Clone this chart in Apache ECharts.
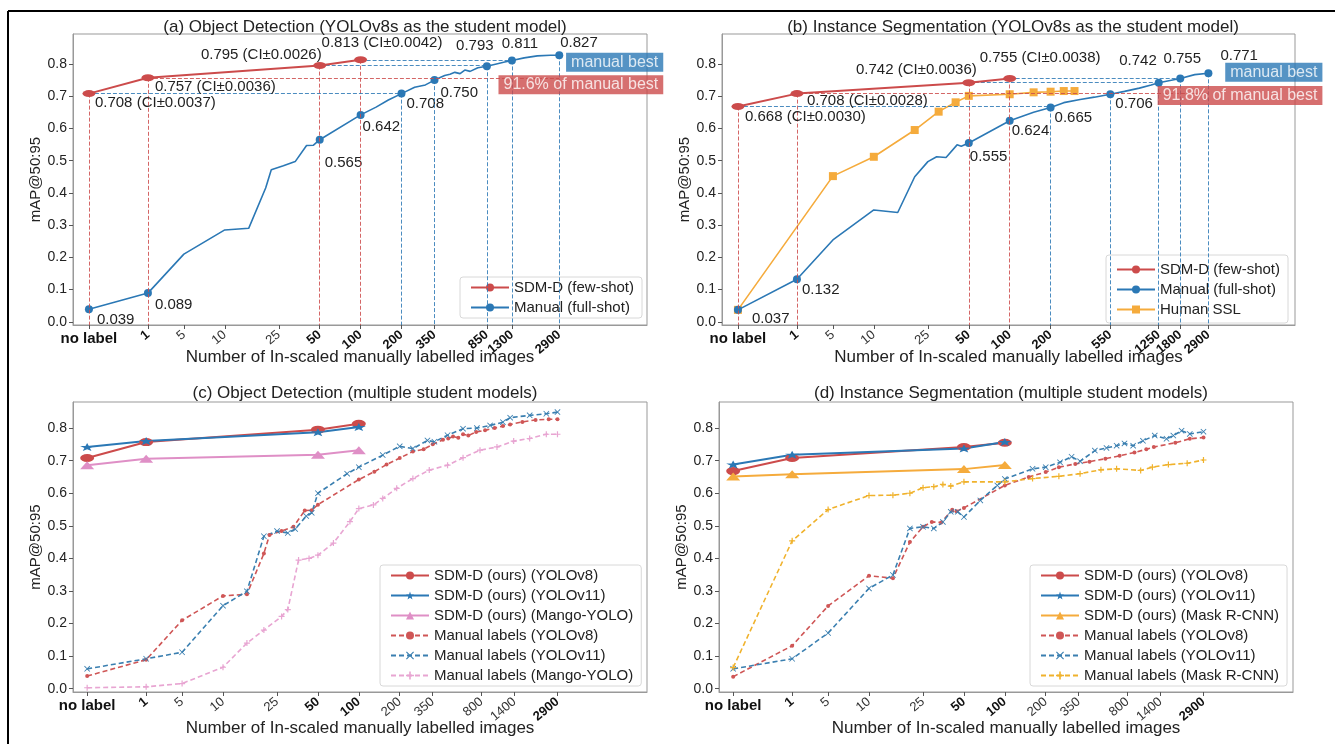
<!DOCTYPE html>
<html><head><meta charset="utf-8">
<script src="https://cdn.jsdelivr.net/npm/echarts@6/dist/echarts.min.js"></script>
<style>html,body{margin:0;padding:0;background:#fff}#c{width:1335px;height:744px}</style>
</head><body><div id="c"></div>
<script>
// ================= DATA =================
const ticksA = [0,1,5,10,25,50,100,200,350,850,1300,2900];
const boldA  = [0,1,50,100,200,350,850,1300,2900];
const ticksB = [0,1,5,10,25,50,100,200,550,1250,1800,2900];
const boldB  = [0,1,50,100,200,550,1250,1800,2900];
const ticksCD = [0,1,5,10,25,50,100,200,350,800,1400,2900];
const boldCD  = [0,1,50,100,2900];
const yTicks = [0,0.1,0.2,0.3,0.4,0.5,0.6,0.7,0.8];

const sdmN = [0,1,50,100];

// (a) Object detection, YOLOv8s
const sdmA = [0.708,0.757,0.795,0.813];
const ciA  = ['0.0037','0.0036','0.0026','0.0042'];
const manNA = [0,1,5,10,15,20,22,27,33,40,45,50,100,130,160,200,250,300,350,416,455,494,540,585,640,730,850,1000,1150,1300,1600,2000,2500,2900];
const manVA = [0.039,0.089,0.210,0.285,0.290,0.415,0.472,0.484,0.497,0.547,0.548,0.565,0.642,0.666,0.688,0.708,0.728,0.735,0.750,0.764,0.768,0.774,0.770,0.781,0.777,0.788,0.793,0.800,0.806,0.811,0.819,0.825,0.827,0.827];
const markA = [0,1,50,100,200,350,850,1300,2900];
const pairsA = [[0,200],[2,850],[3,1300]];
const textA = ['manual best','91.6% of manual best'];

// (b) Instance segmentation, YOLOv8s
const sdmB = [0.668,0.708,0.742,0.755];
const ciB  = ['0.0030','0.0028','0.0036','0.0038'];
const manNB = [0,1,5,10,15,20,25,29,34,41,44,50,100,150,200,250,330,420,550,700,900,1100,1250,1800,2300,2900];
const manVB = [0.037,0.132,0.254,0.347,0.339,0.450,0.497,0.512,0.510,0.549,0.545,0.555,0.624,0.650,0.665,0.680,0.690,0.697,0.706,0.715,0.725,0.735,0.742,0.755,0.767,0.771];
const markB = [0,1,50,100,200,550,1250,1800,2900];
const pairsB = [[0,200],[2,1250],[3,1800]];
const sslN = [0,5,10,20,30,40,50,100,150,200,250,300];
const sslV = [0.037,0.452,0.512,0.595,0.652,0.681,0.701,0.706,0.712,0.714,0.716,0.716];
const textB = ['manual best','91.8% of manual best'];

// (c) Object detection, multiple students
const sdmC_v8  = [0.708,0.757,0.795,0.813];
const sdmC_v11 = [0.742,0.760,0.787,0.803];
const sdmC_mango = [0.686,0.706,0.718,0.732];
const manNC_v11 = [0,1,5,10,15,20,25,30,34,41,45,50,82,100,150,200,250,320,360,450,585,740,925,1150,1300,1810,2400,2900];
const manVC_v11 = [0.061,0.092,0.112,0.255,0.299,0.468,0.484,0.478,0.490,0.530,0.540,0.600,0.660,0.680,0.717,0.744,0.737,0.762,0.758,0.778,0.798,0.800,0.808,0.818,0.832,0.839,0.844,0.849];
const manNC_mango = [0,1,5,10,15,20,27,30,36,43,50,65,86,100,128,150,190,250,330,450,585,780,1040,1380,1810,2400,2900];
const manVC_mango = [0.003,0.006,0.016,0.066,0.140,0.180,0.222,0.243,0.395,0.400,0.410,0.447,0.513,0.553,0.564,0.584,0.615,0.645,0.671,0.686,0.709,0.732,0.742,0.760,0.768,0.781,0.781];

// (d) Instance segmentation, multiple students
const sdmD_v8  = [0.668,0.708,0.742,0.755];
const sdmD_v11 = [0.688,0.718,0.737,0.757];
const sdmD_mask = [0.651,0.658,0.674,0.687];
const manND_v11 = [0,1,5,10,15,20,25,30,35,40,45,50,66,88,100,160,200,255,310,358,460,560,665,760,880,1040,1270,1550,1740,2000,2300,2900];
const manVD_v11 = [0.061,0.092,0.171,0.308,0.349,0.492,0.497,0.492,0.512,0.543,0.543,0.527,0.578,0.624,0.644,0.675,0.680,0.695,0.712,0.698,0.731,0.739,0.746,0.753,0.746,0.761,0.777,0.767,0.777,0.792,0.782,0.789];
const manND_mask = [0,1,5,10,15,20,25,30,35,40,50,100,160,250,358,510,665,1000,1220,1600,2200,2900];
const manVD_mask = [0.065,0.454,0.550,0.593,0.594,0.600,0.617,0.620,0.627,0.622,0.635,0.635,0.645,0.652,0.660,0.672,0.675,0.670,0.680,0.688,0.692,0.702];

// ================= STYLE =================
const RED='#cc4b4b', BLUE='#2b78b5', ORANGE='#f5ab3c', PINK='#df8fc6';
const RED_D='#cf5656', BLUE_D='#3a7fb0', PINK_D='#e8a5d2', ORANGE_D='#f0b22c';
const FONT='Liberation Sans, Arial, sans-serif';
const STAR='path://M5,0L6.2,3.5L10,3.6L7,5.9L8.1,9.5L5,7.4L1.9,9.5L3,5.9L0,3.6L3.8,3.5Z';
const XSYM='path://M0,1L1,0L5,4L9,0L10,1L6,5L10,9L9,10L5,6L1,10L0,9L4,5Z';
const PLUS='path://M4,0H6V4H10V6H6V10H4V6H0V4H4Z';
// label placements [align, dx, dy]
const offSdmA = [['left',6,9],['left',7,9],['right',2,-11],['left',-39,-17]];
const offManA = [['left',8,11],['left',7,12],['left',5,23],['left',2,12],['left',5,10],['left',6,13],['center',-12,-20],['center',8,-17],['left',1,-12]];
const offSdmB = [['left',7,10],['left',10,7],['right',8,-13],['left',-30,-21]];
const offManB = [['left',14,9],['left',5,11],['left',1,14],['left',2,10],['left',4,10],['left',5,10],['right',-2,-22],['center',2,-20],['left',12,-17]];

const P = n => n === 0 ? 0 : (n === 1 ? 1 : Math.log(n));
const YMIN = -0.01;

function lbl(text, o) {
  return {show:true, formatter:text, position:'inside', align:o[0], verticalAlign:'middle',
          offset:[o[1],o[2]], fontSize:15, color:'#222', fontFamily:FONT};
}

const grids = [
  {left:73, top:34, width:574, height:291},
  {left:722, top:34, width:573, height:291},
  {left:73, top:402, width:574, height:290},
  {left:719, top:402, width:574, height:290}
].map(g => Object.assign({show:true, borderColor:'#999', borderWidth:1, backgroundColor:'rgba(0,0,0,0)'}, g));

function xAxes(p, range, ticks, bold, gap) {
  const look = v => ticks.find(n => Math.abs(P(n) - v) < 1e-6);
  return [
    {type:'value', gridIndex:p, position:'bottom', min:range[0], max:range[1],
     name:'Number of In-scaled manually labelled images', nameLocation:'middle', nameGap:gap,
     nameTextStyle:{fontSize:17, color:'#222', fontFamily:FONT},
     axisLine:{show:true, onZero:false, lineStyle:{color:'#999'}},
     axisTick:{show:true, customValues:ticks.map(P), length:4, lineStyle:{color:'#555'}},
     axisLabel:{customValues:[P(0)], formatter:() => 'no label', fontWeight:'bold', fontSize:15, color:'#111', margin:6, fontFamily:FONT},
     splitLine:{show:false}},
    {type:'value', gridIndex:p, position:'bottom', min:range[0], max:range[1],
     axisLine:{show:false, onZero:false}, axisTick:{show:false}, splitLine:{show:false},
     axisLabel:{customValues:ticks.filter(n => n > 0).map(P), rotate:40, margin:8, fontFamily:FONT,
       fontSize:13, color:'#333', hideOverlap:false,
       formatter:v => { const n = look(v); return bold.includes(n) ? '{b|' + n + '}' : '{r|' + n + '}'; },
       rich:{b:{fontWeight:'bold', fontSize:13, color:'#111', fontFamily:FONT}, r:{fontSize:13, color:'#333', fontFamily:FONT}}}}
  ];
}
function yAxis(p, max) {
  return {type:'value', gridIndex:p, min:YMIN, max:max, name:'mAP@50:95', nameLocation:'middle', nameGap:30,
    nameTextStyle:{fontSize:15, color:'#222', fontFamily:FONT},
    axisLine:{show:true, onZero:false, lineStyle:{color:'#999'}},
    axisTick:{show:true, customValues:yTicks, length:4, lineStyle:{color:'#555'}},
    axisLabel:{customValues:yTicks, formatter:v => v.toFixed(1), fontSize:14, color:'#222', margin:6, fontFamily:FONT},
    splitLine:{show:false}};
}

function dash(color) { return {type:[4,2], width:1, color:color, opacity:0.85}; }
function seg(x1,y1,x2,y2,color) { return [{coord:[x1,y1], lineStyle:dash(color)}, {coord:[x2,y2]}]; }

function topPanel(p, c) {
  const xi = 2*p, yi = p;
  const sdmData = sdmN.map((n,i) => ({value:[P(n), c.sdm[i]], label:lbl(c.sdm[i].toFixed(3) + ' (CI±' + c.ci[i] + ')', c.sdmOff[i])}));
  const manData = c.manN.map((n,i) => {
    const k = c.mark.indexOf(n);
    const it = {value:[P(n), c.manV[i]]};
    if (k < 0) it.symbol = 'none'; else it.label = lbl(c.manV[i].toFixed(3), c.manOff[k]);
    return it;
  });
  const lastN = c.manN[c.manN.length-1], best = c.manV[c.manV.length-1];
  const sdmLines = sdmN.map((n,i) => seg(P(n), c.sdm[i], P(n), YMIN, RED));
  sdmLines.push(seg(P(1), c.sdm[1], P(lastN), c.sdm[1], RED));
  const manLines = c.mark.filter(n => !sdmN.includes(n)).map(n => seg(P(n), c.manV[c.manN.indexOf(n)], P(n), YMIN, BLUE));
  c.pairs.forEach(([i,n]) => manLines.push(seg(P(sdmN[i]), c.sdm[i], P(n), c.sdm[i], BLUE)));
  const ml = d => ({symbol:['none','none'], silent:true, animation:false, label:{show:false}, data:d});
  const box = (v, text, off, bg) => ({value:[P(lastN), v], label:{show:true, formatter:text, position:'inside', align:'right',
         verticalAlign:'middle', offset:off, backgroundColor:bg, color:'#fff', padding:[2,5,1,5], fontSize:16, fontFamily:FONT}});
  return [
    {name:'SDM-D (few-shot)', type:'line', xAxisIndex:xi, yAxisIndex:yi, data:sdmData, symbol:'circle', symbolSize:[13,7],
     showAllSymbol:true, lineStyle:{color:RED, width:2}, itemStyle:{color:RED}, z:5, markLine:ml(sdmLines)},
    {name:'Manual (full-shot)', type:'line', xAxisIndex:xi, yAxisIndex:yi, data:manData, symbol:'circle', symbolSize:8,
     showAllSymbol:true, lineStyle:{color:BLUE, width:1.6}, itemStyle:{color:BLUE}, z:4, markLine:ml(manLines)},
    {name:'boxes' + p, type:'scatter', xAxisIndex:xi, yAxisIndex:yi, symbolSize:1, clip:false, silent:true, z:10,
     itemStyle:{color:'rgba(0,0,0,0)'},
     data:[box(best, c.text[0], c.boxOff[0], BLUE), box(c.sdm[1], c.text[1], c.boxOff[1], RED)]}
  ];
}

function solid(name, p, vals, color, sym) {
  return {name, type:'line', xAxisIndex:2*p, yAxisIndex:p, data:sdmN.map((n,i) => [P(n), vals[i]]),
    symbol:sym, symbolSize:[14,8], showAllSymbol:true, lineStyle:{color, width:2}, itemStyle:{color}, z:5};
}
function dashed(name, p, ns, vs, color, sym, size) {
  return {name, type:'line', xAxisIndex:2*p, yAxisIndex:p, data:ns.map((n,i) => [P(n), vs[i]]),
    symbol:sym, symbolSize:size, showAllSymbol:true, lineStyle:{color, width:1.6, type:[5,3]}, itemStyle:{color}, z:4};
}

const series = [].concat(
  topPanel(0, {sdm:sdmA, ci:ciA, sdmOff:offSdmA, manN:manNA, manV:manVA, mark:markA, manOff:offManA, pairs:pairsA, text:textA, boxOff:[[104,7],[104,7]]}),
  topPanel(1, {sdm:sdmB, ci:ciB, sdmOff:offSdmB, manN:manNB, manV:manVB, mark:markB, manOff:offManB, pairs:pairsB, text:textB, boxOff:[[114,-1],[114,2]]}),
  [{name:'Human SSL', type:'line', xAxisIndex:2, yAxisIndex:1, data:sslN.map((n,i) => [P(n), sslV[i]]), symbol:'rect', symbolSize:8,
    showAllSymbol:true, lineStyle:{color:ORANGE, width:1.6}, itemStyle:{color:ORANGE}, z:3}],
  [solid('SDM-D (ours) (YOLOv8)', 2, sdmC_v8, RED, 'circle'),
   solid('SDM-D (ours) (YOLOv11)', 2, sdmC_v11, BLUE, STAR),
   solid('SDM-D (ours) (Mango-YOLO)', 2, sdmC_mango, PINK, 'triangle'),
   dashed('Manual labels (YOLOv8)', 2, manNA, manVA, RED_D, 'circle', 4),
   dashed('Manual labels (YOLOv11)', 2, manNC_v11, manVC_v11, BLUE_D, XSYM, 6),
   dashed('Manual labels (Mango-YOLO)', 2, manNC_mango, manVC_mango, PINK_D, PLUS, 6)],
  [solid('SDM-D (ours) (YOLOv8) ', 3, sdmD_v8, RED, 'circle'),
   solid('SDM-D (ours) (YOLOv11) ', 3, sdmD_v11, BLUE, STAR),
   solid('SDM-D (ours) (Mask R-CNN)', 3, sdmD_mask, ORANGE, 'triangle'),
   dashed('Manual labels (YOLOv8) ', 3, manNB, manVB, RED_D, 'circle', 4),
   dashed('Manual labels (YOLOv11) ', 3, manND_v11, manVD_v11, BLUE_D, XSYM, 6),
   dashed('Manual labels (Mask R-CNN)', 3, manND_mask, manVD_mask, ORANGE_D, PLUS, 6)]
);

function legend(left, top, names, pad) {
  return {left, top, orient:'vertical', data:names, itemWidth:38, itemHeight:10, itemGap:5,
    padding:pad || [3,8,3,10], borderColor:'#d8d8d8', borderWidth:1, borderRadius:3, backgroundColor:'rgba(255,255,255,0.85)',
    textStyle:{fontSize:15, lineHeight:15, color:'#222', fontFamily:FONT}, selectedMode:false,
    formatter: n => n.trim()};
}

function title(text, cx, top) {
  return {text, left:cx, top, textAlign:'center',
    textStyle:{fontSize:17, fontWeight:'normal', color:'#222', fontFamily:FONT}};
}

const option = {
  animation:false,
  textStyle:{fontFamily:FONT},
  title:[
    title('(a) Object Detection (YOLOv8s as the student model)', 360, 14),
    title('(b) Instance Segmentation (YOLOv8s as the student model)', 1008, 14),
    title('(c) Object Detection (multiple student models)', 360, 380),
    title('(d) Instance Segmentation (multiple student models)', 1006, 380)
  ],
  grid:grids,
  xAxis:[].concat(
    xAxes(0, [-0.27, 9.46], ticksA, boldA, 24),
    xAxes(1, [-0.27, 9.44], ticksB, boldB, 24),
    xAxes(2, [-0.24, 9.49], ticksCD, boldCD, 28),
    xAxes(3, [-0.24, 9.49], ticksCD, boldCD, 28)
  ),
  yAxis:[yAxis(0, 0.893), yAxis(1, 0.893), yAxis(2, 0.88), yAxis(3, 0.88)],
  legend:[
    legend(460, 277, ['SDM-D (few-shot)','Manual (full-shot)']),
    legend(1106, 255, ['SDM-D (few-shot)','Manual (full-shot)','Human SSL'], [7,8,6,10]),
    legend(380, 565, ['SDM-D (ours) (YOLOv8)','SDM-D (ours) (YOLOv11)','SDM-D (ours) (Mango-YOLO)','Manual labels (YOLOv8)','Manual labels (YOLOv11)','Manual labels (Mango-YOLO)']),
    legend(1030, 565, ['SDM-D (ours) (YOLOv8) ','SDM-D (ours) (YOLOv11) ','SDM-D (ours) (Mask R-CNN)','Manual labels (YOLOv8) ','Manual labels (YOLOv11) ','Manual labels (Mask R-CNN)'])
  ],
  graphic:[
    {type:'line', shape:{x1:8, y1:11, x2:1335, y2:11}, style:{stroke:'#000', lineWidth:2}, silent:true},
    {type:'line', shape:{x1:8, y1:11, x2:8, y2:744}, style:{stroke:'#000', lineWidth:2}, silent:true}
  ],
  series
};
const chart = echarts.init(document.getElementById('c'), null, {renderer:'canvas'});
chart.setOption(option);
</script>
</body></html>
